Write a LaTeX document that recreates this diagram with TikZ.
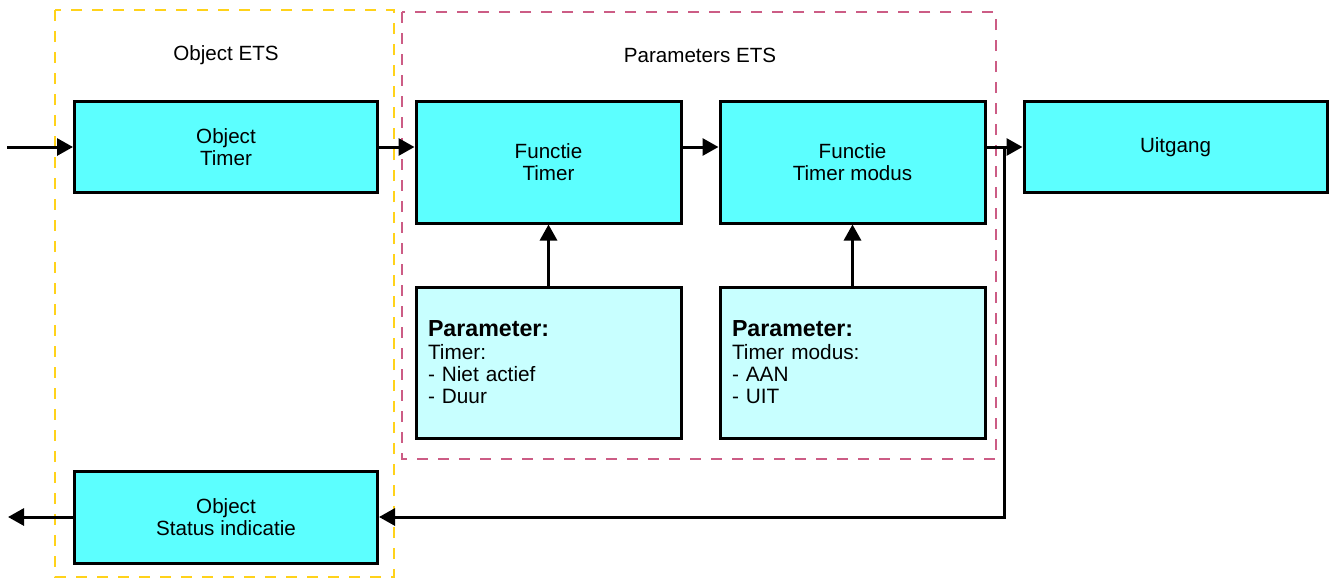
\documentclass[tikz,border=0pt]{standalone}
\usepackage{fontspec}
\setmainfont{Liberation Sans}
\usetikzlibrary{arrows.meta}
\definecolor{boxcyan}{HTML}{5CFFFF}
\definecolor{parcyan}{HTML}{C8FFFF}
\definecolor{etsyellow}{HTML}{FFD21A}
\definecolor{etspink}{HTML}{CC5C85}
\tikzset{
  block/.style={draw, line width=1.5pt, fill=boxcyan, align=center, inner sep=0pt,
    font=\fontsize{10.3}{11}\selectfont},
  parbox/.style={draw, line width=1.5pt, fill=parcyan, align=left, inner xsep=6pt,
    text width=120.5pt, minimum height=75.5pt, font=\fontsize{10.4}{11.2}\selectfont},
  flow/.style={line width=1.5pt, -{Triangle[length=8pt,width=8.5pt]}},
  etsframe/.style={line width=1.35pt, dash pattern=on 5.5pt off 5pt}
}
\begin{document}
\begin{tikzpicture}[x=0.5pt, y=-0.5pt]
  \useasboundingbox (0, 0) rectangle (1329, 579);

  \draw[etsframe, etsyellow] (55, 10) rectangle (394, 577);
  \draw[etsframe, etspink] (402, 12) rectangle (996, 459);
  \node[font=\fontsize{10.3}{11}\selectfont] (objets) at (226, 55) {Object ETS};
  \node[font=\fontsize{10.3}{11}\selectfont] (parets) at (700, 55) {Parameters ETS};

  \node[block, minimum width=151.5pt, minimum height=45.5pt] (objtimer) at (226, 147) {Object\\Timer};
  \node[block, minimum width=132.5pt, minimum height=61pt] (ftimer) at (548.5, 162) {Functie\\Timer};
  \node[block, minimum width=132.5pt, minimum height=61pt] (fmodus) at (852.5, 162) {Functie\\Timer modus};
  \node[block, minimum width=151.5pt, minimum height=45.5pt] (uitgang) at (1175.5, 147) {Uitgang};
  \node[block, minimum width=151.5pt, minimum height=46pt] (status) at (226, 517) {Object\\Status indicatie};

  \node[parbox] (partimer) at (548.5, 362.5)
    {{\fontsize{11.6}{12.5}\selectfont\bfseries Parameter:}\\Timer:\\- Niet actief\\- Duur};
  \node[parbox] (parmodus) at (852.5, 362.5)
    {{\fontsize{11.6}{12.5}\selectfont\bfseries Parameter:}\\Timer modus:\\- AAN\\- UIT};

  \coordinate (in) at (7, 147);
  \coordinate (out) at (8, 517);
  \coordinate (split) at (1004, 147);

  \draw[flow] (in) -- (objtimer.west);
  \draw[flow] (objtimer.east) -- (objtimer.east -| ftimer.west);
  \draw[flow] (ftimer.east |- uitgang.west) -- (fmodus.west |- uitgang.west);
  \draw[flow] (fmodus.east |- uitgang.west) -- (uitgang.west);
  \draw[flow] (split) |- (status.east);
  \draw[flow] (status.west) -- (out);
  \draw[flow] (partimer.north) -- (ftimer.south);
  \draw[flow] (parmodus.north) -- (fmodus.south);
\end{tikzpicture}
\end{document}
